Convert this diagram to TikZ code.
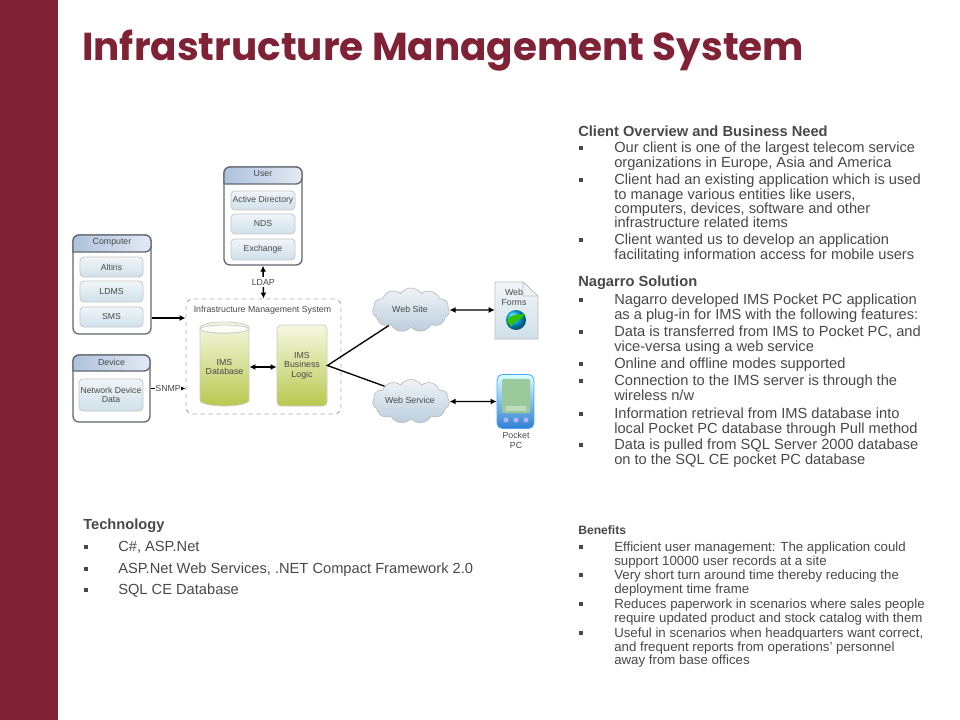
\documentclass[tikz,border=0pt]{standalone}
\usepackage{fontspec}
\setmainfont{Liberation Sans}
\newfontfamily\titlefont{Poppins}
\usetikzlibrary{shapes,shapes.geometric,shapes.symbols,arrows.meta}
\definecolor{maroon}{HTML}{7F2235}
\definecolor{txtgray}{HTML}{484848}
\definecolor{boxline}{HTML}{62686E}
\definecolor{headblue}{HTML}{AEC2DE}
\definecolor{itemblue}{HTML}{CFE0EA}
\definecolor{limetop}{HTML}{F6F8E2}
\definecolor{limelow}{HTML}{B9C84E}
\definecolor{cloudtop}{HTML}{F0F4F7}
\definecolor{cloudlow}{HTML}{BBCEDD}
\definecolor{pdablue}{HTML}{2F7FD2}
\tikzset{
  sized/.style 2 args = {minimum width=#1*0.75pt, minimum height=#2*0.75pt, inner sep=0pt},
  group_box/.style = {draw=boxline, line width=1pt, rounded corners=4.5pt, fill=white},
  group_head/.style = {draw=boxline, line width=1pt, left color=headblue, right color=white!65!headblue},
  item_box/.style = {draw=gray!45, line width=0.6pt, rounded corners=3pt, top color=white!70!itemblue, bottom color=itemblue, text=txtgray, align=center, font=\fontsize{6.5}{7.2}\selectfont},
  small_txt/.style = {text=txtgray, align=center, inner sep=0pt, font=\fontsize{6.6}{7}\selectfont},
  lime_box/.style = {draw=gray!40, line width=0.6pt, top color=limetop, bottom color=limelow, text=txtgray, align=center, font=\fontsize{6.6}{7.2}\selectfont},
  net_cloud/.style = {cloud, cloud puffs=11, cloud puff arc=110, aspect=1.75, draw=gray!55, line width=0.5pt, top color=cloudtop, bottom color=cloudlow},
  link/.style = {line width=1pt, black, >={Latex[length=4.5pt,width=4.5pt]}},
  para/.style = {anchor=north west, align=left, inner sep=0pt, text=txtgray, font=\fontsize{11}{10.75}\selectfont},
  fine/.style = {anchor=north west, align=left, inner sep=0pt, text=txtgray, font=\fontsize{9.95}{10.1}\selectfont},
  head/.style = {anchor=west, inner sep=0pt, text=txtgray, font=\fontsize{11}{12}\selectfont\bfseries},
  dot/.style = {rectangle, fill=txtgray, inner sep=0pt, minimum size=3pt}
}
\begin{document}
\begin{tikzpicture}[x=0.75pt,y=-0.75pt]
\useasboundingbox (0,0) rectangle (960,720);
\fill[maroon] (0,0) rectangle (58,720);
\node [anchor=west, inner sep=0pt, text=maroon, font=\titlefont\fontsize{29.2}{36}\selectfont\bfseries] (title) at (82,51) {Infrastructure Management System};

% user group
\node [group_box, sized={78}{98}] (user) at (263,216) {};
\draw [group_head] (224,184) [rounded corners=4.5pt] -- (224,167) -- (302,167) -- (302,184) [sharp corners] -- cycle;
\node [small_txt] (user_t) at (263,174) {User};
\node [item_box, sized={64}{19}] (ad) at (263,200.5) {Active Directory};
\node [item_box, sized={64}{20}] (nds) at (263,224) {NDS};
\node [item_box, sized={64}{21}] (exch) at (263,249.5) {Exchange};

% computer group
\node [group_box, sized={78}{99}] (comp) at (112,284.5) {};
\draw [group_head] (73,252) [rounded corners=4.5pt] -- (73,235) -- (151,235) -- (151,252) [sharp corners] -- cycle;
\node [small_txt] (comp_t) at (112,242.5) {Computer};
\node [item_box, sized={63}{20}] (altiris) at (111.5,267) {Altiris};
\node [item_box, sized={63}{21}] (ldms) at (111.5,291.5) {LDMS};
\node [item_box, sized={63}{20}] (sms) at (111.5,317) {SMS};

% device group
\node [group_box, sized={77}{67}] (dev) at (111.5,388.5) {};
\draw [group_head] (73,371) [rounded corners=4.5pt] -- (73,355) -- (150,355) -- (150,371) [sharp corners] -- cycle;
\node [small_txt] (dev_t) at (111.5,362) {Device};
\node [item_box, sized={64}{32}] (netdata) at (111,395) {Network Device\\Data};

% ims
\node [draw=gray!70, dashed, line width=0.7pt, rounded corners=5pt, sized={155}{115}] (ims) at (263.5,356.5) {};
\node [small_txt] (ims_t) at (262.5,310) {Infrastructure Management System};
\node [cylinder, shape border rotate=90, aspect=0.3, draw=gray!40, line width=0.6pt, top color=limetop, bottom color=limelow, sized={49}{84}, text=txtgray, align=center, font=\fontsize{6.6}{7.2}\selectfont] (db) at (224.5,367) {IMS\\Database};
\draw [draw=gray!40, line width=0.6pt, fill=white!60!limetop] (224.5,329) ellipse (24.5 and 4);
\node [lime_box, rounded corners=3pt, sized={50}{81}] (logic) at (302,365.5) {IMS\\Business\\Logic};

% clouds
\node [net_cloud, sized={77}{44}] (site) at (411,310) {};
\node [small_txt] (site_t) at (410,309) {Web Site};
\node [net_cloud, sized={77}{44}] (service) at (411,401.5) {};
\node [small_txt] (service_t) at (410,400.5) {Web Service};

% web forms page
\node [sized={43}{58}] (forms) at (516.5,310) {};
\draw [draw=gray!50, line width=0.6pt, top color=white!70!itemblue, bottom color=itemblue] (495,282) -- (523,282) -- (538,296) -- (538,339) -- (495,339) -- cycle;
\draw [draw=gray!50, line width=0.5pt, fill=white!60!itemblue] (523,282) -- (523,296) -- (538,296) -- cycle;
\node [small_txt] (forms_t) at (514,297.5) {Web\\Forms};
\shade [ball color=cyan!75!blue] (516,320) circle (7.5pt);
\fill [green!70!black!80!yellow] (507,321) .. controls (512,311) and (519,316) .. (525,314) .. controls (520,322) and (514,320) .. (511,327) -- cycle;

% pocket pc
\node [draw=blue!50!cyan!70, line width=0.6pt, rounded corners=4pt, top color=cyan!15!white, bottom color=pdablue, sized={37}{54}] (pocket) at (515.5,401.5) {};
\fill [green!30!gray!60!white, rounded corners=1pt] (502,379) rectangle (530,413);
\fill [white, opacity=0.35] (506,406) rectangle (526,411);
\fill [white!70!blue] (506,420) circle (1.9pt) (516,420) circle (1.9pt) (526,420) circle (1.9pt);
\node [small_txt] (pocket_t) at (516,440.5) {Pocket\\PC};

% connectors
\draw [link, <->] (user.south) -- (ims.north) node [midway, fill=white, small_txt, inner ysep=1.5pt] (ldap) {LDAP};
\draw [link, ->] (comp.east |- sms) ++(0,1) -- (ims.west |- 0,318);
\draw [link, ->] (dev.east) -- (ims.west |- dev.east) node [midway, fill=white, small_txt] (snmp) {SNMP};
\draw [link, <->] (db.east |- 0,367) -- (logic.west |- 0,367);
\draw [link] (site.215) -- (logic.east) -- (service.150);
\draw [link, <->] (site.east) -- (forms.west);
\draw [link, <->] (service.east) -- (pocket.west);

% client overview
\node [head] (over_h) at (578,131) {Client Overview and Business Need};
\node [dot] (b1) at (581,148) {};
\node [para] (p1) at (614,142) {Our client is one of the largest telecom service\\organizations in Europe, Asia and America};
\node [dot] (b2) at (581,180) {};
\node [para] (p2) at (614,174) {Client had an existing application which is used\\to manage various entities like users,\\computers, devices, software and other\\infrastructure related items};
\node [dot] (b3) at (581,240) {};
\node [para] (p3) at (614,234) {Client wanted us to develop an application\\facilitating information access for mobile users};

% solution
\node [head] (sol_h) at (578,283) {Nagarro Solution};
\node [dot] (b4) at (581,300) {};
\node [para] (p4) at (614,294) {Nagarro developed IMS Pocket PC application\\as a plug-in for IMS with the following features:};
\node [dot] (b5) at (581,332) {};
\node [para] (p5) at (614,326) {Data is transferred from IMS to Pocket PC, and\\vice-versa using a web service};
\node [dot] (b6) at (581,364) {};
\node [para] (p6) at (614,358) {Online and offline modes supported};
\node [dot] (b7) at (581,381) {};
\node [para] (p7) at (614,375) {Connection to the IMS server is through the\\wireless n/w};
\node [dot] (b8) at (581,414) {};
\node [para] (p8) at (614,408) {Information retrieval from IMS database into\\local Pocket PC database through Pull method};
\node [dot] (b9) at (581,445) {};
\node [para] (p9) at (614,439) {Data is pulled from SQL Server 2000 database\\on to the SQL CE pocket PC database};

% technology
\node [head] (tech_h) at (83,526) {Technology};
\node [dot] (t1) at (86,547) {};
\node [para] (tp1) at (118,541) {C\#, ASP.Net};
\node [dot] (t2) at (86,569) {};
\node [para] (tp2) at (118,563) {ASP.Net Web Services, .NET Compact Framework 2.0};
\node [dot] (t3) at (86,590) {};
\node [para] (tp3) at (118,584) {SQL CE Database};

% benefits
\node [head, font=\fontsize{9.1}{11}\selectfont\bfseries] (ben_h) at (578,530) {Benefits};
\node [dot] (b10) at (581,547) {};
\node [fine] (p10) at (614,542) {Efficient user management: The application could\\support 10000 user records at a site};
\node [dot] (b11) at (581,575) {};
\node [fine] (p11) at (614,570) {Very short turn around time thereby reducing the\\deployment time frame};
\node [dot] (b12) at (581,604) {};
\node [fine] (p12) at (614,599) {Reduces paperwork in scenarios where sales people\\require updated product and stock catalog with them};
\node [dot] (b13) at (581,633) {};
\node [fine] (p13) at (614,628) {Useful in scenarios when headquarters want correct,\\and frequent reports from operations' personnel\\away from base offices};
\end{tikzpicture}
\end{document}
